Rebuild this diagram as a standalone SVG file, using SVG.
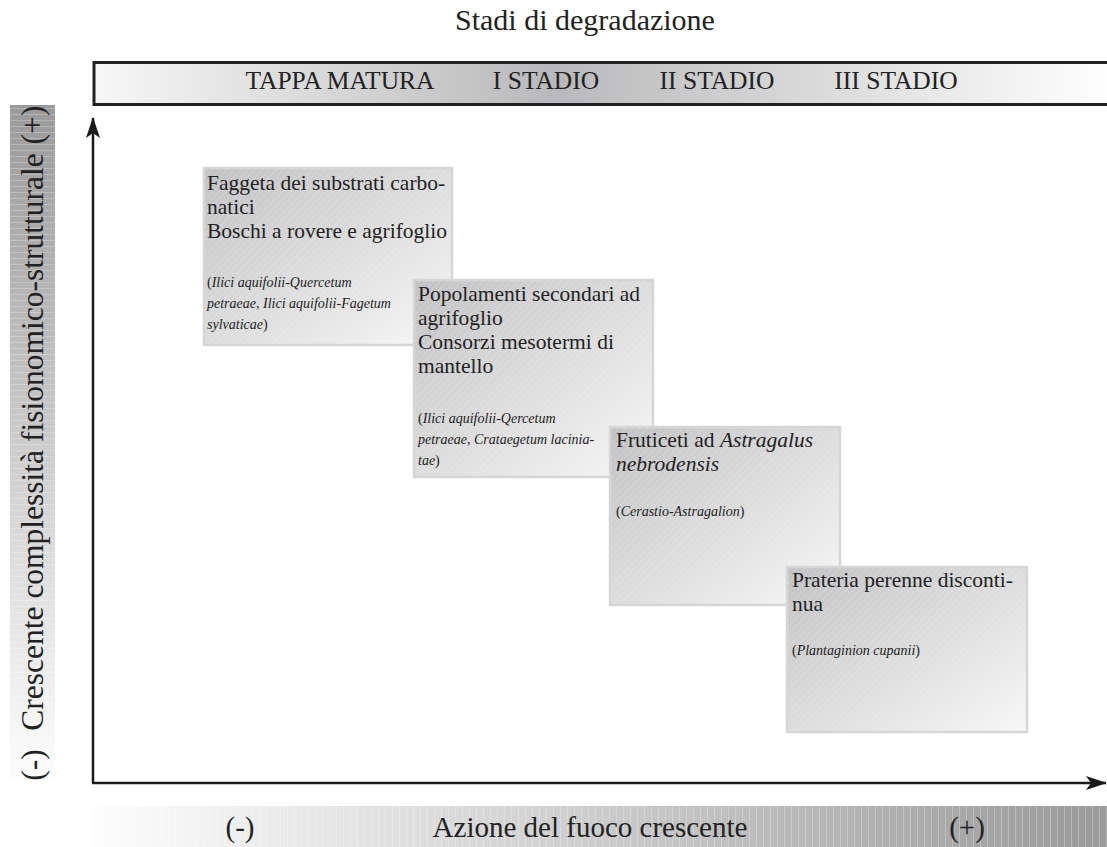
<svg xmlns="http://www.w3.org/2000/svg" width="1107" height="847" viewBox="0 0 1107 847">
<defs>
<style>
.serif{font-family:"Liberation Serif",serif;fill:#222;}
.title{font-size:30px;}
.hdr{font-size:25.5px;}
.axis{font-size:31.5px;}
.axb{font-size:29px;}
.bt{font-size:21.5px;}
.it{font-size:14px;font-style:italic;}
.box{stroke:#d6d6d6;stroke-width:2.5;}
.ax{stroke:#1a1a1a;stroke-width:2.5;fill:none;}
</style>
<linearGradient id="gHdr" x1="0" y1="0" x2="1" y2="0">
<stop offset="0" stop-color="#f7f7f7"/>
<stop offset="0.45" stop-color="#b9b9bb"/>
<stop offset="1" stop-color="#ffffff"/>
</linearGradient>
<linearGradient id="gLeft" x1="0" y1="0" x2="0" y2="1">
<stop offset="0" stop-color="#9a9a9a"/>
<stop offset="1" stop-color="#fdfdfd"/>
</linearGradient>
<linearGradient id="gBot" x1="0" y1="0" x2="1" y2="0">
<stop offset="0" stop-color="#fdfdfd"/>
<stop offset="1" stop-color="#9a9a9a"/>
</linearGradient>
<linearGradient id="gBox" x1="0" y1="0" x2="1" y2="1">
<stop offset="0" stop-color="#c2c2c4"/>
<stop offset="1" stop-color="#f7f7f7"/>
</linearGradient>
<pattern id="pDiag" width="5" height="5" patternUnits="userSpaceOnUse" patternTransform="rotate(45)">
<line x1="0" y1="0" x2="0" y2="5" stroke="#ffffff" stroke-opacity="0.3" stroke-width="1"/>
</pattern>
<pattern id="pH" width="10" height="6" patternUnits="userSpaceOnUse">
<line x1="0" y1="0.5" x2="10" y2="0.5" stroke="#ffffff" stroke-opacity="0.25" stroke-width="1"/>
</pattern>
<pattern id="pV" width="7" height="10" patternUnits="userSpaceOnUse">
<line x1="0.5" y1="0" x2="0.5" y2="10" stroke="#ffffff" stroke-opacity="0.25" stroke-width="1"/>
</pattern>
<marker id="arr" viewBox="-20 -8 22 16" refX="0" refY="0" markerWidth="22" markerHeight="16" markerUnits="userSpaceOnUse" orient="auto">
<path d="M1,0 L-20,-7 L-15,0 L-20,7 Z" fill="#1a1a1a"/>
</marker>
</defs>
<rect width="1107" height="847" fill="#ffffff"/>

<g id="title">
<text class="serif title" x="585" y="30" text-anchor="middle">Stadi di degradazione</text>
</g>

<g id="header">
<rect x="94" y="62.5" width="1020" height="42" fill="url(#gHdr)" stroke="#222" stroke-width="3"/>
<text class="serif hdr" x="340" y="89" text-anchor="middle">TAPPA MATURA</text>
<text class="serif hdr" x="546" y="89" text-anchor="middle">I STADIO</text>
<text class="serif hdr" x="717" y="89" text-anchor="middle">II STADIO</text>
<text class="serif hdr" x="896" y="89" text-anchor="middle">III STADIO</text>
</g>

<g id="y-label">
<rect x="10" y="105" width="45" height="675" fill="url(#gLeft)"/>
<rect x="10" y="105" width="45" height="675" fill="url(#pH)"/>
<text class="serif axis" transform="translate(43,125) rotate(-90)" text-anchor="middle">(+)</text>
<text class="serif axis" transform="translate(43,442) rotate(-90)" text-anchor="middle">Crescente complessità fisionomico-strutturale</text>
<text class="serif axis" transform="translate(43,765) rotate(-90)" text-anchor="middle">(-)</text>
</g>

<g id="x-label">
<rect x="94" y="806" width="1013" height="41" fill="url(#gBot)"/>
<rect x="94" y="806" width="1013" height="41" fill="url(#pV)"/>
<text class="serif axb" x="240" y="837" text-anchor="middle">(-)</text>
<text class="serif axb" x="590" y="837" text-anchor="middle">Azione del fuoco crescente</text>
<text class="serif axb" x="967" y="837" text-anchor="middle">(+)</text>
</g>

<g id="connectors">
<line class="ax" x1="93" y1="783" x2="93" y2="118" marker-end="url(#arr)"/>
<line class="ax" x1="92" y1="783" x2="1106" y2="783" marker-end="url(#arr)"/>
</g>

<g id="node-tappa-matura">
<rect class="box" x="204" y="168" width="248" height="177" fill="url(#gBox)"/>
<rect x="205" y="169" width="246" height="175" fill="url(#pDiag)"/>
<text class="serif bt" x="207" y="190">Faggeta dei substrati carbo-</text>
<text class="serif bt" x="207" y="214">natici</text>
<text class="serif bt" x="207" y="238">Boschi a rovere e agrifoglio</text>
<text class="serif it" x="207" y="287"><tspan font-style="normal">(</tspan>Ilici aquifolii-Quercetum</text>
<text class="serif it" x="207" y="308">petraeae, Ilici aquifolii-Fagetum</text>
<text class="serif it" x="207" y="329">sylvaticae<tspan font-style="normal">)</tspan></text>
</g>

<g id="node-stadio-1">
<rect class="box" x="414" y="280" width="239" height="197" fill="url(#gBox)"/>
<rect x="415" y="281" width="237" height="195" fill="url(#pDiag)"/>
<text class="serif bt" x="418" y="301">Popolamenti secondari ad</text>
<text class="serif bt" x="418" y="325">agrifoglio</text>
<text class="serif bt" x="418" y="349">Consorzi mesotermi di</text>
<text class="serif bt" x="418" y="373">mantello</text>
<text class="serif it" x="418" y="423"><tspan font-style="normal">(</tspan>Ilici aquifolii-Qercetum</text>
<text class="serif it" x="418" y="444">petraeae, Crataegetum lacinia-</text>
<text class="serif it" x="418" y="465">tae<tspan font-style="normal">)</tspan></text>
</g>

<g id="node-stadio-2">
<rect class="box" x="610" y="427" width="230" height="178" fill="url(#gBox)"/>
<rect x="611" y="428" width="228" height="176" fill="url(#pDiag)"/>
<text class="serif bt" x="616" y="447">Fruticeti ad <tspan font-style="italic">Astragalus</tspan></text>
<text class="serif bt" x="616" y="471" font-style="italic">nebrodensis</text>
<text class="serif it" x="616" y="516"><tspan font-style="normal">(</tspan>Cerastio-Astragalion<tspan font-style="normal">)</tspan></text>
</g>

<g id="node-stadio-3">
<rect class="box" x="787" y="567" width="240" height="165" fill="url(#gBox)"/>
<rect x="788" y="568" width="238" height="163" fill="url(#pDiag)"/>
<text class="serif bt" x="792" y="587">Prateria perenne disconti-</text>
<text class="serif bt" x="792" y="611">nua</text>
<text class="serif it" x="792" y="655"><tspan font-style="normal">(</tspan>Plantaginion cupanii<tspan font-style="normal">)</tspan></text>
</g>
</svg>
